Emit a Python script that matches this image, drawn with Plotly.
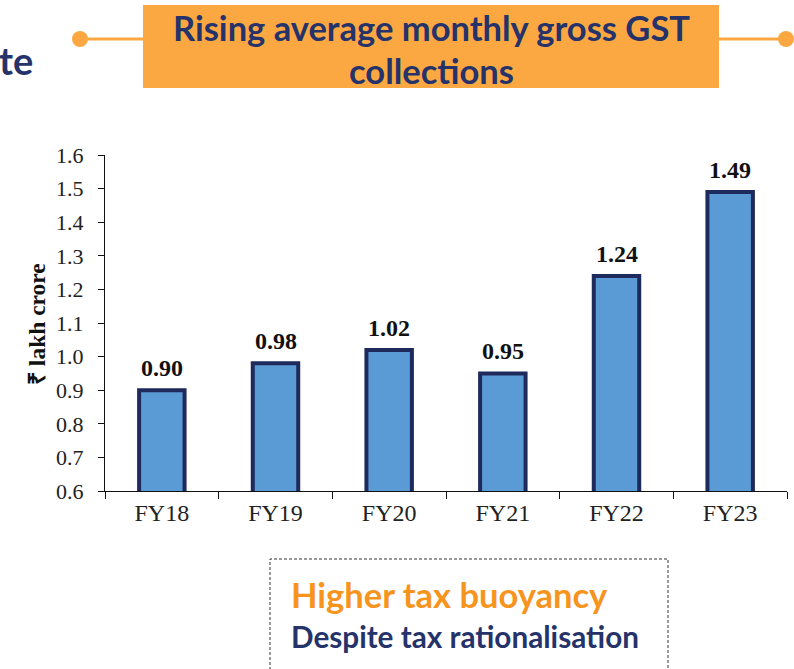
import plotly.graph_objects as go

categories = ["FY18", "FY19", "FY20", "FY21", "FY22", "FY23"]
gst_values = [0.90, 0.98, 1.02, 0.95, 1.24, 1.49]
y_ticks = [0.6, 0.7, 0.8, 0.9, 1.0, 1.1, 1.2, 1.3, 1.4, 1.5, 1.6]

W, H = 794, 669
L, R, T, B = 105, 787, 155, 491  # plot area in pixels


def px(x):
    return (x - L) / (R - L)


def py(y):
    return (B - y) / (B - T)


NAVY = "#25336A"
ORANGE_BOX = "#FBA842"
ORANGE_TXT = "#F7941D"

fig = go.Figure()
fig.add_trace(go.Bar(
    x=categories, y=gst_values, width=0.4,
    marker=dict(color="#5B9BD5", line=dict(color="#1F2A5C", width=4)),
    hoverinfo="x+y",
))

# data labels
for c, v in zip(categories, gst_values):
    fig.add_annotation(x=c, y=v, xref="x", yref="y", text=f"<b>{v:.2f}</b>",
                       showarrow=False, yanchor="bottom", yshift=7,
                       font=dict(family="Liberation Serif", size=24, color="#111111"))

shapes = []
# title box and connector lines
shapes.append(dict(type="rect", xref="paper", yref="paper",
                   x0=px(143), x1=px(719), y0=py(88), y1=py(5),
                   fillcolor=ORANGE_BOX, line=dict(width=0), layer="above"))
shapes.append(dict(type="line", xref="paper", yref="paper",
                   x0=px(80), x1=px(143), y0=py(39), y1=py(39),
                   line=dict(color=ORANGE_BOX, width=3)))
shapes.append(dict(type="line", xref="paper", yref="paper",
                   x0=px(719), x1=px(786), y0=py(39), y1=py(39),
                   line=dict(color=ORANGE_BOX, width=3)))
for cx in (80, 786):
    shapes.append(dict(type="circle", xref="paper", yref="paper",
                       x0=px(cx - 8), x1=px(cx + 8), y0=py(47), y1=py(31),
                       fillcolor=ORANGE_BOX, line=dict(width=0)))
# dashed box at bottom
shapes.append(dict(type="rect", xref="paper", yref="paper",
                   x0=px(270), x1=px(668), y0=py(700), y1=py(559),
                   line=dict(color="#333333", width=1, dash="3px,2px"),
                   fillcolor="rgba(0,0,0,0)"))
fig.update_layout(shapes=shapes)

title_font = dict(family="Lato", size=34.5, color=NAVY)
fig.add_annotation(xref="paper", yref="paper", x=px(431), y=py(27),
                   text="<b>Rising average monthly gross GST</b>", showarrow=False,
                   xanchor="center", yanchor="middle", font=title_font)
fig.add_annotation(xref="paper", yref="paper", x=px(431), y=py(70),
                   text="<b>collections</b>", showarrow=False,
                   xanchor="center", yanchor="middle", font=title_font)
fig.add_annotation(xref="paper", yref="paper", x=px(-3), y=py(60),
                   text="<b>te</b>", showarrow=False,
                   xanchor="left", yanchor="middle",
                   font=dict(family="Lato", size=38, color=NAVY))
fig.add_annotation(xref="paper", yref="paper", x=px(289), y=py(594),
                   text="<b>Higher tax buoyancy</b>", showarrow=False,
                   xanchor="left", yanchor="middle",
                   font=dict(family="Lato", size=34.5, color=ORANGE_TXT))
fig.add_annotation(xref="paper", yref="paper", x=px(289), y=py(636),
                   text="<b>Despite tax rationalisation</b>", showarrow=False,
                   xanchor="left", yanchor="middle",
                   font=dict(family="Lato", size=29.7, color=NAVY))
# y axis title
fig.add_annotation(xref="paper", yref="paper", x=px(37), y=py(324),
                   text="<b>₹ lakh crore</b>", showarrow=False, textangle=-90,
                   xanchor="center", yanchor="middle",
                   font=dict(family="Liberation Serif", size=23.5, color="#111111"))

fig.update_xaxes(
    type="category", showline=True, linecolor="#111111", linewidth=1,
    ticks="outside", tickson="boundaries", ticklen=7, tickcolor="#111111",
    tickfont=dict(family="Liberation Serif", size=24, color="#222222"),
    showgrid=False, zeroline=False, fixedrange=True,
)
fig.update_yaxes(
    range=[0.6, 1.6], tickvals=y_ticks, ticktext=[f"{t:.1f}" for t in y_ticks],
    showline=True, linecolor="#111111", linewidth=1,
    ticks="outside", ticklen=6, tickcolor="#111111",
    tickfont=dict(family="Liberation Serif", size=22, color="#222222"),
    ticklabelstandoff=10,
    showgrid=False, zeroline=False, fixedrange=True,
)
fig.update_layout(
    width=W, height=H, autosize=False,
    margin=dict(l=L, r=W - R, t=T, b=H - B, pad=0),
    plot_bgcolor="white", paper_bgcolor="white",
    showlegend=False, bargap=0.6,
)
fig.write_html("out.html", config={"displayModeBar": False},
               post_script="document.body.style.margin='0';document.body.style.overflow='hidden';")
